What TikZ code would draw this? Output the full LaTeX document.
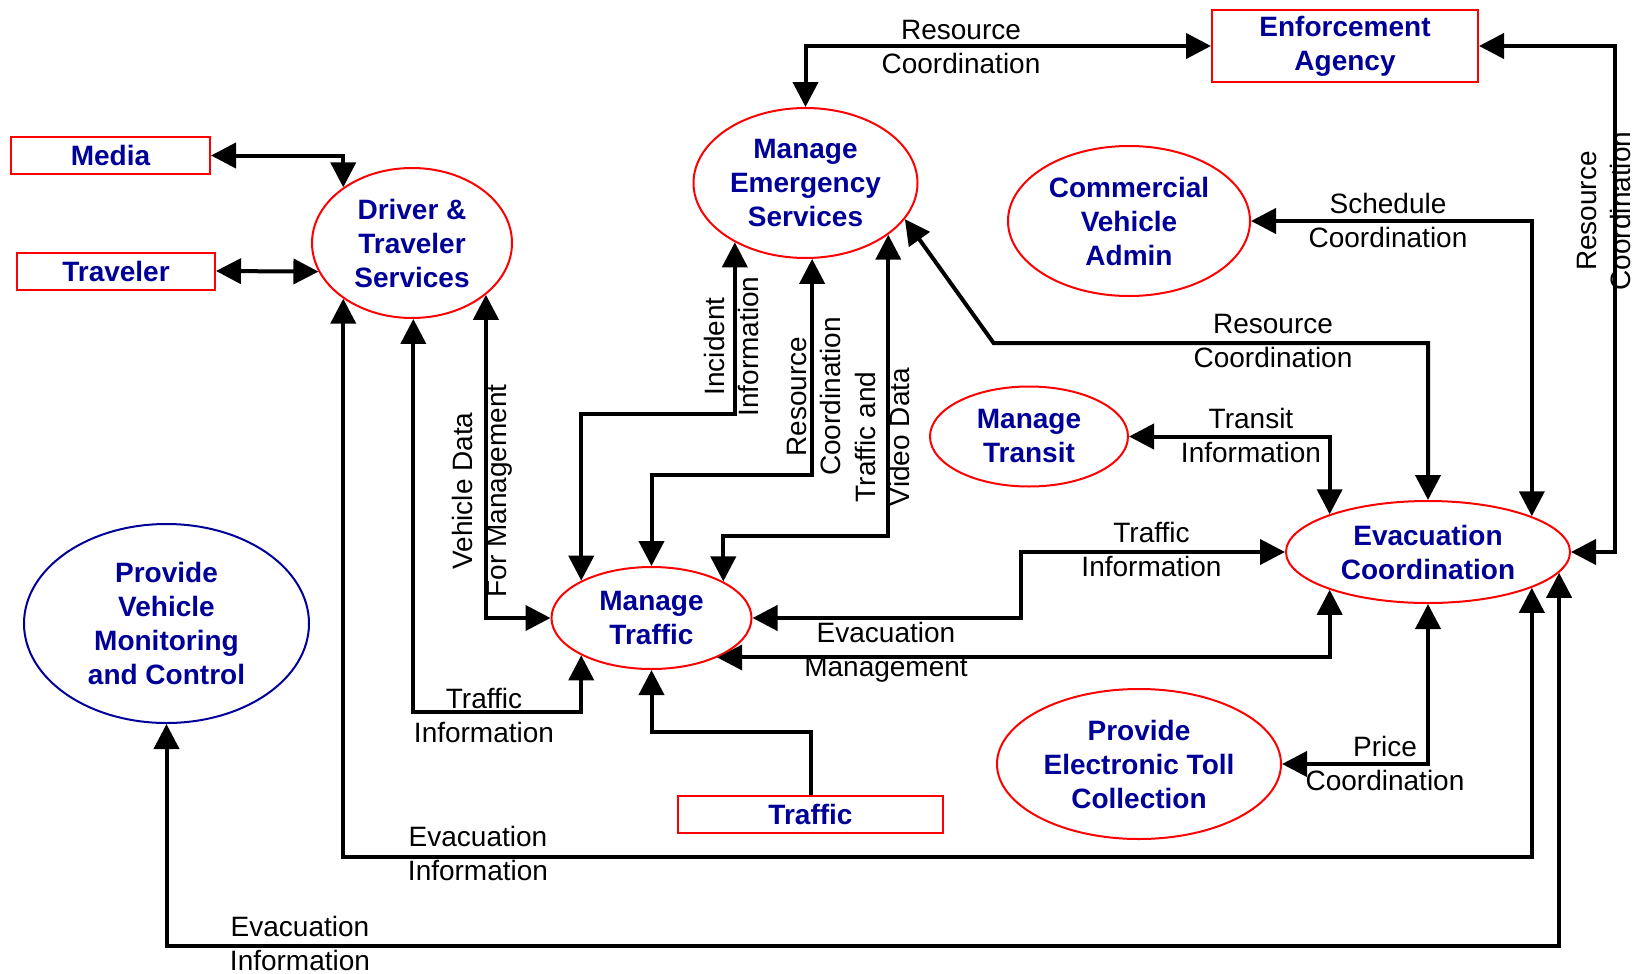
\documentclass[tikz,border=0pt]{standalone}
\usepackage{fontspec}
\setmainfont{Liberation Sans}
\usetikzlibrary{arrows.meta,shapes.geometric}
\definecolor{nblue}{RGB}{0,0,153}
\definecolor{nred}{RGB}{255,0,0}
\begin{document}
\begin{tikzpicture}[x=1pt,y=-1pt,
  proc/.style={ellipse, draw=nred, line width=2pt, inner sep=0pt, text=nblue,
    font=\bfseries\fontsize{28}{34}\selectfont, align=center},
  ext/.style={rectangle, draw=nred, line width=2pt, inner sep=0pt, text=nblue,
    font=\bfseries\fontsize{28}{34}\selectfont, align=center},
  lbl/.style={font=\fontsize{28}{34}\selectfont, align=center, inner sep=0pt},
  flow/.style={line width=4pt, -{Triangle[length=25pt,width=25pt]}},
  flow2/.style={line width=4pt, {Triangle[length=25pt,width=25pt]}-{Triangle[length=25pt,width=25pt]}},
]
\useasboundingbox (0,0) rectangle (1638,974);
\fill[white] (0,0) rectangle (1638,974);

% external boxes
\node[ext, minimum width=199pt, minimum height=37pt] (media) at (110.5,155.5) {Media};
\node[ext, minimum width=198pt, minimum height=37pt] (traveler) at (116,271) {Traveler};
\node[ext, minimum width=266pt, minimum height=71pt] (enf) at (1345,46) {Enforcement\\Agency};
\node[ext, minimum width=265pt, minimum height=37pt] (tbox) at (810.5,814) {Traffic};

% processes
\node[proc, minimum width=200pt, minimum height=150pt] (driver) at (412,243) {Driver \&\\Traveler\\Services};
\node[proc, minimum width=224pt, minimum height=150pt] (mes) at (805.5,183) {Manage\\Emergency\\Services};
\node[proc, minimum width=242pt, minimum height=150pt] (cva) at (1129,221) {Commercial\\Vehicle\\Admin};
\node[proc, minimum width=198pt, minimum height=100pt] (mtr) at (1029,436.5) {Manage\\Transit};
\node[proc, minimum width=200pt, minimum height=102pt] (mt) at (651.5,618) {Manage\\Traffic};
\node[proc, minimum width=284pt, minimum height=102pt] (evac) at (1428,552) {Evacuation\\Coordination};
\node[proc, minimum width=284pt, minimum height=150pt] (petc) at (1139,764) {Provide\\Electronic Toll\\Collection};
\node[proc, draw=nblue, minimum width=285pt, minimum height=199pt] (pvmc) at (166.5,623.5) {Provide\\Vehicle\\Monitoring\\and Control};

\coordinate (bend) at (993.6,343);

% connectors
\draw[flow2] (media.east) -| (driver.141);
\draw[flow2] (traveler.east) -- (driver.197);
\draw[flow2] (driver.219) -- (driver.219 |- 0,857) -| (evac.341);
\draw[flow2] (driver.271) -- (driver.271 |- 0,712) -| (mt.208);
\draw[flow2] (driver.325) |- (mt.west);
\draw[flow2] (mes.north) |- (enf.west);
\draw[flow2] (enf.east) -- (enf.east -| 1615,0) -- (evac.east -| 1615,0) -- (evac.east);
\draw[flow2] (mes.220) -- (mes.220 |- 0,413.5) -| (mt.152);
\draw[flow2] (mes.275) -- (mes.275 |- 0,475) -| (mt.north);
\draw[flow2] (mes.328) -- (mes.328 |- 0,536) -| (mt.27);
\draw[flow2] (mes.340) -- (bend) -| (evac.north);
\draw[flow2] (cva.east) -| (evac.19);
\draw[flow2] (mtr.east) -| (evac.159);
\draw[flow2] (mt.east) -- (mt.east -| 1021,0) -- (evac.west -| 1021,0) -- (evac.west);
\draw[flow2] (evac.201) |- (mt.329);
\draw[flow2] (evac.south) |- (petc.east);
\draw[flow2] (evac.351) -- (evac.351 |- 0,946) -| (pvmc.south);
\draw[flow] (tbox.north) -- (tbox.north |- 0,732) -| (mt.south);

% labels
\node[lbl] (l1) at (961,47) {Resource\\Coordination};
\node[lbl] (l2) at (1388,220) {Schedule\\Coordination};
\node[lbl] (l3) at (1273,341) {Resource\\Coordination};
\node[lbl] (l4) at (1251,435) {Transit\\Information};
\node[lbl] (l5) at (1151.5,549) {Traffic\\Information};
\node[lbl] (l6) at (886,652) {Evacuation\\Management};
\node[lbl] (l7) at (1385,763) {Price\\Coordination};
\node[lbl] (l8) at (478,853) {Evacuation\\Information};
\node[lbl] (l9) at (300,943) {Evacuation\\Information};
\node[lbl] (l10) at (484,715) {Traffic\\Information};
\node[lbl, rotate=90] (l11) at (731,346.5) {Incident\\Information};
\node[lbl, rotate=90] (l12) at (814,396.5) {Resource\\Coordination};
\node[lbl, rotate=90] (l13) at (882,437) {Traffic and\\Video Data};
\node[lbl, rotate=90] (l14) at (482,491) {Vehicle Data\\For Management};
\node[lbl, rotate=90] (l15) at (1604,211) {Resource\\Coordination};
\end{tikzpicture}
\end{document}
